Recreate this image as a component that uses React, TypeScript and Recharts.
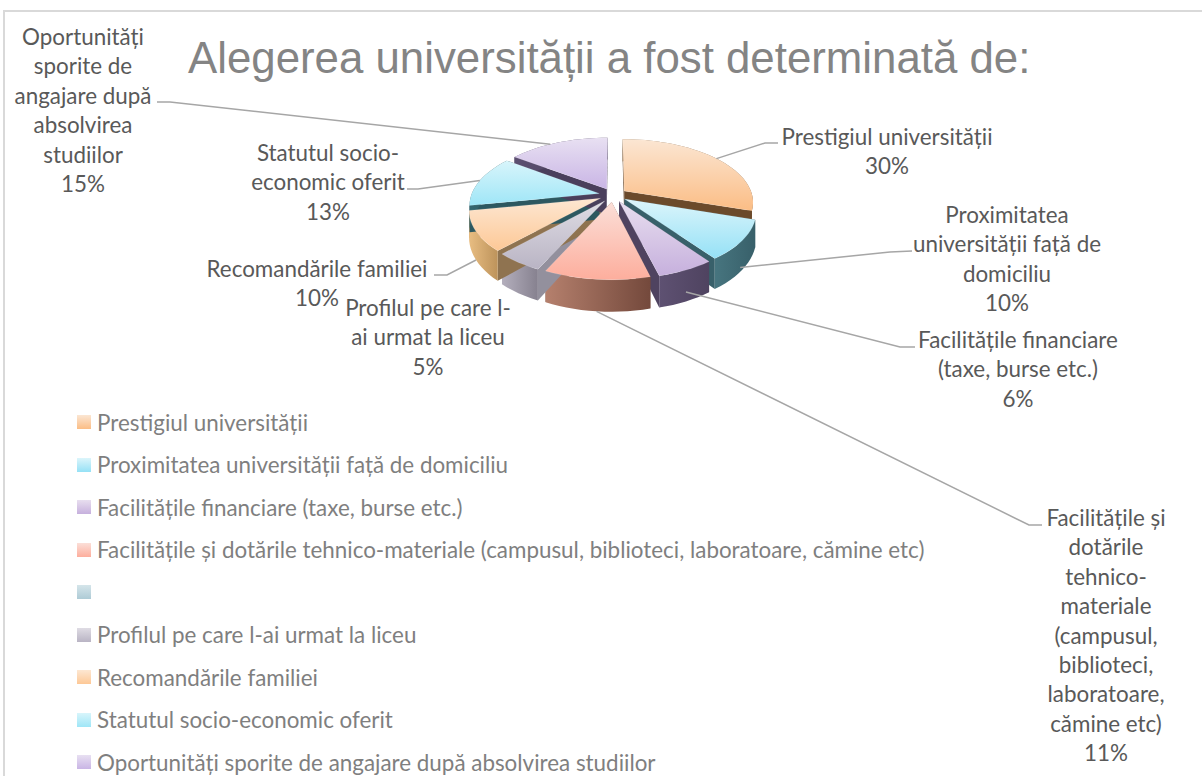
import React from "react";
import { PieChart, Pie, Legend } from "recharts";

const categories = [
  "Prestigiul universității",
  "Proximitatea universității față de domiciliu",
  "Facilitățile financiare (taxe, burse etc.)",
  "Facilitățile și dotările tehnico-materiale (campusul, biblioteci, laboratoare, cămine etc)",
  "",
  "Profilul pe care l-ai urmat la liceu",
  "Recomandările familiei",
  "Statutul socio-economic oferit",
  "Oportunități sporite de angajare după absolvirea studiilor",
];
const values = [30, 10, 6, 11, 0, 5, 10, 13, 15];
const labelLines = [
  ["Prestigiul universității"],
  ["Proximitatea", "universității față de", "domiciliu"],
  ["Facilitățile financiare", "(taxe, burse etc.)"],
  ["Facilitățile și", "dotările", "tehnico-", "materiale", "(campusul,", "biblioteci,", "laboratoare,", "cămine etc)"],
  [],
  ["Profilul pe care l-", "ai urmat la liceu"],
  ["Recomandările familiei"],
  ["Statutul socio-", "economic oferit"],
  ["Oportunități", "sporite de", "angajare după", "absolvirea", "studiilor"],
];

const topColors = [
  ["#fbe6d3", "#fbbd85"], ["#dcf5fb", "#95e1f6"], ["#e8deef", "#c6b0dd"], ["#fbdfd8", "#fdae9d"],
  ["#d5e5ea", "#aecbd6"], ["#dfdce4", "#b9b4c4"], ["#fde7d2", "#fdc896"], ["#d8f5fb", "#9fe6f7"], ["#e8e0f2", "#c9b5e5"],
];
const wallColors = [
  ["#8a6a45", "#6b4a2b"], ["#47757f", "#38606a"], ["#5e5172", "#4f4360"], ["#b5806d", "#74493c"],
  ["#6b8a95", "#55707a"], ["#b4afbd", "#86818f"], ["#e8bd82", "#bd935b"], ["#34666f", "#2d5860"], ["#5b4f70", "#4a3f5c"],
];
const faceColors = ["#6b4a2b", "#38606a", "#4f4360", "#74493c", "#55707a", "#93909d", "#8f7350", "#2d5860", "#4a3f5c"];

const chartData = categories.map((name, i) => ({ name, value: values[i] }));

const WIDTH = 1202;
const HEIGHT = 776;
const PIE_CX = 613;
const PIE_CY = 195;
const RADIUS = 128;
const Y_SCALE = 0.484;
const PERSPECTIVE = 0.17;
const EXPLODE = 0.11;
const DEPTH = 26;
const LABEL_FONT = "Lato, sans-serif";
const LABEL_SIZE = 22.4;
const LINE_STEP = 29.4;

const labelLayout = [
  { x: 887, y: 145, elbow: [[765, 143], [778, 143]], f: 0.5, d: 0 },
  { x: 1007, y: 223, elbow: [[890, 252], [912, 251]], f: 0.55, d: 0.85 },
  { x: 1018, y: 348, elbow: [[900, 347], [915, 347]], f: 0.5, d: 0.7 },
  { x: 1106, y: 526, elbow: [[1029, 525], [1042, 525]], f: 0.5, d: 1 },
  null,
  { x: 428, y: 316, elbow: null, f: 0, d: 0 },
  { x: 317, y: 277, elbow: [[447, 275], [434, 275]], f: 0.5, d: 1 },
  { x: 328, y: 161, elbow: [[418, 189], [407, 189]], f: 0.5, d: 0 },
  { x: 83, y: 45, elbow: [[170, 102], [157, 102]], f: 0.42, d: 0 },
];
const legendTop = 401;
const legendStep = 42.5;

const rad = (deg: number) => (deg * Math.PI) / 180;

// Projects a point of the exploded disc (angle in library degrees, r as a share of the radius).
function project(cx: number, cy: number, R: number, angle: number, r: number, mid: number) {
  const u = r * Math.cos(rad(angle)) + EXPLODE * Math.cos(rad(mid));
  const v = r * Math.sin(rad(angle)) + EXPLODE * Math.sin(rad(mid));
  const s = 1 / (1 + PERSPECTIVE * v);
  return { x: cx + R * u * s, y: cy - R * Y_SCALE * v * s, drop: DEPTH * s };
}

function arcPoints(cx: number, cy: number, R: number, a0: number, a1: number) {
  const mid = (a0 + a1) / 2;
  const n = Math.max(2, Math.ceil(Math.abs(a1 - a0) / 3));
  const pts = [];
  for (let i = 0; i <= n; i++) pts.push(project(cx, cy, R, a0 + ((a1 - a0) * i) / n, 1, mid));
  return pts;
}
const toPath = (pts: { x: number; y: number }[]) =>
  "M" + pts.map((p) => `${p.x.toFixed(2)},${p.y.toFixed(2)}`).join("L") + "Z";
const dropped = (p: { x: number; y: number; drop: number }) => ({ x: p.x, y: p.y + p.drop, drop: p.drop });

function sliceIndex(props: any, idx: any) {
  if (typeof idx === "number") return idx;
  if (typeof props.index === "number") return props.index;
  return categories.indexOf(props.name);
}

function TopShape(props: any, idx: any) {
  const { cx, cy, outerRadius, startAngle, endAngle } = props;
  const index = sliceIndex(props, idx);
  if (Math.abs(endAngle - startAngle) < 0.01) return <g />;
  const mid = (startAngle + endAngle) / 2;
  const apex = project(cx, cy, outerRadius, 0, 0, mid);
  const arc = arcPoints(cx, cy, outerRadius, startAngle, endAngle);
  return <path d={toPath([apex, ...arc])} fill={`url(#top-${index})`} stroke="#ffffff" strokeOpacity={0.25} strokeWidth={0.5} />;
}

function WallShape(props: any, idx: any) {
  const { cx, cy, outerRadius, startAngle, endAngle } = props;
  const index = sliceIndex(props, idx);
  if (Math.abs(endAngle - startAngle) < 0.01) return <g />;
  const mid = (startAngle + endAngle) / 2;
  const apex = project(cx, cy, outerRadius, 0, 0, mid);
  const arc = arcPoints(cx, cy, outerRadius, startAngle, endAngle);
  const first = arc[0];
  const last = arc[arc.length - 1];
  const face = (p: any) => toPath([apex, p, dropped(p), dropped(apex)]);
  return (
    <g>
      <path d={face(first)} fill={faceColors[index]} />
      <path d={face(last)} fill={faceColors[index]} />
      <path d={toPath([...arc, ...arc.slice().reverse().map(dropped)])} fill={`url(#wall-${index})`} />
    </g>
  );
}

function renderLabel(props: any) {
  const { index, value, midAngle, percent, cx, cy, outerRadius } = props;
  const layout = labelLayout[index];
  if (!layout) return <g key={index} />;
  const lines = [...labelLines[index], `${value}%`];
  let leader = null;
  if (layout.elbow) {
    const half = percent * 180;
    const angle = midAngle + half - 2 * half * layout.f;
    const p = project(cx, cy, outerRadius, angle, 1, midAngle);
    const pts = [[p.x, p.y + p.drop * layout.d], ...layout.elbow];
    leader = <polyline points={pts.map((q) => q.join(",")).join(" ")} fill="none" stroke="#a6a6a6" strokeWidth={1.5} />;
  }
  return (
    <g key={index}>
      {leader}
      <text x={layout.x} y={layout.y} textAnchor="middle" fontFamily={LABEL_FONT} fontSize={LABEL_SIZE} fill="#595959">
        {lines.map((line, i) => (
          <tspan key={i} x={layout.x} y={layout.y + i * LINE_STEP}>{line}</tspan>
        ))}
      </text>
    </g>
  );
}

function renderLegend(props: any) {
  const payload = (props.payload || []).filter((e: any) => e.type !== "none").slice(0, categories.length);
  return (
    <div style={{ fontFamily: LABEL_FONT, fontSize: LABEL_SIZE, color: "#7f7f7f" }}>
      {payload.map((entry: any, i: number) => (
        <div key={i} style={{ position: "absolute", left: 77, top: i * legendStep, height: legendStep, display: "flex", alignItems: "center", whiteSpace: "nowrap" }}>
          <span style={{ width: 14, height: 14, marginRight: 6, flex: "none", background: `linear-gradient(${topColors[i][0]}, ${topColors[i][1]})` }} />
          <span>{entry.value}</span>
        </div>
      ))}
    </div>
  );
}

export default function App() {
  return (
    <div style={{ position: "absolute", left: 0, top: 0, width: WIDTH, height: HEIGHT, background: "#ffffff", overflow: "hidden" }}>
      <div style={{ position: "absolute", left: 3, top: 10, right: 0, bottom: 0, borderTop: "2px solid #d9d9d9", borderLeft: "2px solid #d9d9d9" }} />
      <div style={{ position: "absolute", left: 188, top: 33, whiteSpace: "nowrap", fontFamily: "'Liberation Sans', sans-serif", fontSize: 43.8, color: "#848484" }}>
        Alegerea universității a fost determinată de:
      </div>
      <div style={{ position: "absolute", left: 0, top: 0 }}>
        <PieChart width={WIDTH} height={HEIGHT} margin={{ top: 0, right: 0, bottom: 0, left: 0 }}>
          <defs>
            {topColors.map((c, i) => (
              <linearGradient key={i} id={`top-${i}`} x1="0" y1="0" x2="0" y2="1">
                <stop offset="0" stopColor={c[0]} />
                <stop offset="1" stopColor={c[1]} />
              </linearGradient>
            ))}
            {wallColors.map((c, i) => (
              <linearGradient key={i} id={`wall-${i}`} x1="0" y1="0" x2="1" y2="0">
                <stop offset="0" stopColor={c[0]} />
                <stop offset="1" stopColor={c[1]} />
              </linearGradient>
            ))}
          </defs>
          <Legend
            content={renderLegend}
            verticalAlign="bottom"
            itemSorter={null}
            wrapperStyle={{ position: "absolute", left: 0, top: legendTop, bottom: "auto", width: 1000, height: 375 }}
          />
          <Pie
            data={chartData}
            dataKey="value"
            nameKey="name"
            cx={PIE_CX}
            cy={PIE_CY}
            outerRadius={RADIUS}
            startAngle={90}
            endAngle={-270}
            paddingAngle={0}
            shape={WallShape}
            legendType="none"
            isAnimationActive={false}
          />
          <Pie
            data={chartData}
            dataKey="value"
            nameKey="name"
            cx={PIE_CX}
            cy={PIE_CY}
            outerRadius={RADIUS}
            startAngle={90}
            endAngle={-270}
            paddingAngle={0}
            shape={TopShape}
            label={renderLabel}
            labelLine={false}
            isAnimationActive={false}
          />
        </PieChart>
      </div>
    </div>
  );
}
